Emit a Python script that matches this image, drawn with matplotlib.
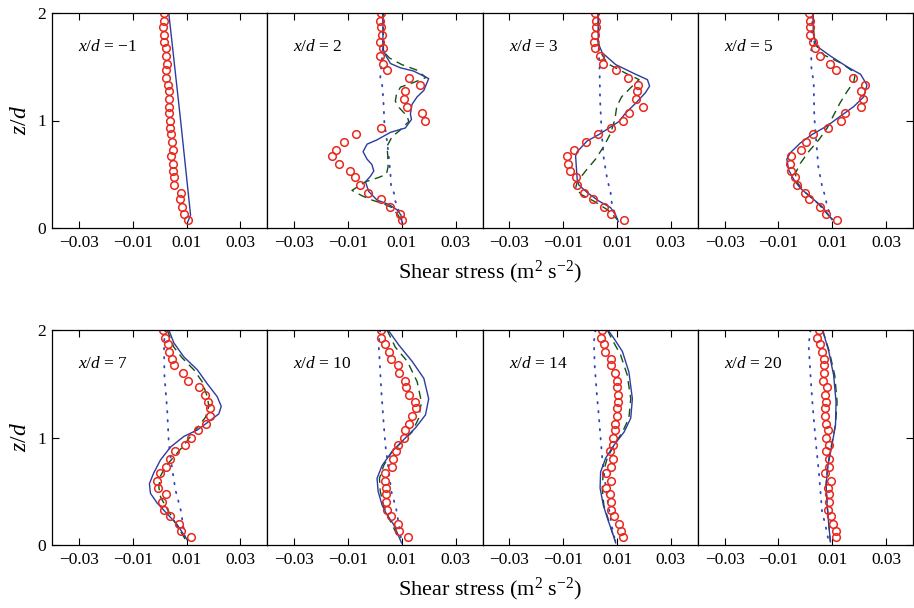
import numpy as np
import matplotlib
matplotlib.use('Agg')
import matplotlib.pyplot as plt

plt.rcParams['font.family'] = 'Liberation Serif'
plt.rcParams['mathtext.fontset'] = 'custom'
plt.rcParams['mathtext.rm'] = 'Liberation Serif'
plt.rcParams['mathtext.it'] = 'Liberation Serif:italic'

# ── Data (shear stress, in units of 1e-3 m^2 s^-2) ───────────────────────────
MILLI = 1e-3

stations = ['\u22121', '2', '3', '5', '7', '10', '14', '20']

# measurement heights (same grid for every station), top -> bottom
z_exp = [2.00, 1.93, 1.87, 1.80, 1.73, 1.67, 1.60, 1.53, 1.47, 1.40,
         1.33, 1.27, 1.20, 1.13, 1.07, 1.00, 0.93, 0.87, 0.80, 0.73,
         0.67, 0.60, 0.53, 0.47, 0.40, 0.33, 0.27, 0.20, 0.13, 0.07]

exp_m1 = [1.8, 1.6, 1.3, 1.8, 1.6, 2.2, 2.4, 2.8, 2.5, 2.2, 3.0, 3.4, 3.4, 3.4, 3.4,
          3.7, 3.8, 4.4, 4.7, 4.9, 4.3, 4.9, 5.0, 5.3, 5.5, 7.8, 7.5, 8.4, 9.0, 10.5]
exp_2 = [2.3, 1.8, 2.4, 2.7, 1.8, 3.0, 1.8, 3.0, 4.5, 12.8, 16.6, 11.3, 11.0, 12.0, 17.5,
         18.8, 2.4, -6.9, -11.6, -14.4, -15.9, -13.2, -9.4, -7.5, -5.6, -2.7, 2.4, 5.8, 9.5, 10.1]
exp_3 = [1.7, 2.3, 2.0, 1.8, 1.4, 1.8, 3.7, 4.9, 9.5, 14.1, 17.9, 17.5, 17.2, 19.7, 14.4,
         12.3, 7.9, 2.9, -1.7, -6.0, -8.7, -8.1, -7.5, -5.4, -4.8, -2.3, 1.1, 5.1, 7.6, 12.6]
exp_5 = [1.5, 1.9, 1.6, 1.9, 2.9, 3.7, 5.6, 9.3, 11.4, 17.7, 22.3, 20.8, 21.5, 20.8, 14.6,
         13.4, 8.4, 2.7, 0.2, -1.5, -5.2, -5.6, -5.2, -4.0, -3.1, -0.2, 1.2, 5.6, 7.8, 11.8]
exp_7 = [1.3, 1.9, 3.0, 3.5, 4.5, 5.5, 8.7, 10.5, 14.6, 16.7, 17.9, 18.9, 18.9, 17.4, 14.2,
         11.8, 9.6, 5.6, 3.8, 2.5, 0.1, -0.9, -0.7, 2.3, 0.9, 1.6, 4.0, 7.1, 8.1, 11.7]
exp_10 = [2.4, 2.3, 3.9, 5.1, 6.1, 8.5, 8.9, 11.3, 11.6, 12.8, 14.8, 15.1, 13.8, 12.8, 11.1,
          10.7, 8.5, 8.0, 6.6, 6.4, 3.9, 3.7, 4.2, 4.2, 4.2, 4.5, 6.1, 8.5, 8.9, 12.3]
exp_14 = [4.5, 4.2, 5.1, 5.4, 7.6, 7.9, 9.1, 10.1, 10.1, 10.4, 10.5, 10.1, 9.9, 9.2, 9.2,
          8.6, 8.5, 7.4, 8.5, 7.6, 5.8, 7.9, 5.8, 7.4, 7.9, 7.9, 8.9, 10.7, 11.3, 12.3]
exp_20 = [5.0, 4.3, 5.6, 6.0, 7.1, 6.8, 6.8, 6.6, 8.1, 7.2, 7.7, 7.2, 7.2, 7.7, 8.4,
          7.7, 8.9, 7.7, 8.9, 8.9, 7.2, 9.5, 8.3, 8.9, 8.9, 8.3, 9.5, 10.2, 11.4, 11.2]

# solid-line model
solid_z_m1 = [2.0, 1.0, 0.12, 0.06]
solid_m1 = [3.4, 7.8, 11.5, 10.5]
solid_z_2 = [2.00, 1.67, 1.61, 1.53, 1.49, 1.46, 1.39, 1.28, 1.22, 1.15, 1.06, 1.01, 0.93, 0.89,
             0.82, 0.78, 0.71, 0.64, 0.59, 0.53, 0.48, 0.43, 0.34, 0.26, 0.22, 0.17, 0.12, 0.05]
solid_2 = [3.0, 3.0, 3.9, 5.8, 9.5, 14.4, 20.0, 18.2, 15.7, 13.8, 13.2, 13.6, 11.3, 5.8,
           0.8, -2.9, -4.4, -2.9, -1.1, -0.4, -1.7, -3.5, -2.3, 0.8, 5.1, 8.2, 9.7, 10.1]
solid_z_3 = [2.0, 1.72, 1.63, 1.52, 1.43, 1.38, 1.32, 1.26, 1.16, 1.07, 0.99, 0.93, 0.87, 0.81,
             0.71, 0.67, 0.45, 0.40, 0.33, 0.25, 0.19, 0.12, 0.06]
solid_3 = [3.0, 3.0, 4.5, 9.5, 16.9, 21.3, 22.1, 20.6, 16.9, 13.2, 10.7, 7.0, 3.3, -1.1,
           -4.8, -5.4, -4.8, -4.2, -1.1, 3.3, 7.6, 9.5, 10.5]
solid_z_5 = [2.0, 1.81, 1.69, 1.60, 1.50, 1.43, 1.33, 1.22, 1.13, 1.04, 0.95, 0.87, 0.79, 0.70,
             0.64, 0.54, 0.45, 0.37, 0.29, 0.20, 0.08]
solid_5 = [2.9, 2.9, 4.3, 9.3, 15.5, 20.5, 22.9, 21.7, 18.0, 13.0, 8.1, 2.5, -1.9, -5.6,
           -6.9, -6.2, -4.3, -1.9, 1.9, 6.2, 9.9]
solid_z_7 = [2.0, 1.88, 1.75, 1.63, 1.50, 1.38, 1.29, 1.22, 1.16, 1.07, 1.01, 0.91, 0.79, 0.67,
             0.57, 0.48, 0.39, 0.29, 0.19, 0.05]
solid_7 = [3.4, 5.3, 9.0, 14.0, 17.7, 21.4, 22.9, 22.0, 18.9, 14.0, 9.0, 4.0, 0.3, -2.2,
           -3.8, -3.4, -0.9, 2.8, 6.5, 10.2]
solid_z_10 = [2.0, 1.86, 1.71, 1.55, 1.36, 1.21, 1.09, 0.98, 0.87, 0.74, 0.62, 0.50, 0.37, 0.28, 0.19, 0.02]
solid_10 = [4.9, 8.9, 13.8, 18.2, 20.0, 18.8, 15.1, 10.7, 6.4, 2.7, 0.8, 1.2, 2.7, 4.5, 7.0, 9.9]
solid_z_14 = [2.0, 1.92, 1.80, 1.61, 1.36, 1.18, 1.05, 0.93, 0.81, 0.68, 0.53, 0.37, 0.25, 0.12, 0.02]
solid_14 = [6.6, 8.9, 12.0, 14.4, 15.7, 15.1, 12.6, 8.9, 5.8, 3.9, 3.7, 4.9, 6.4, 8.2, 9.5]
solid_z_20 = [2.0, 1.80, 1.58, 1.33, 1.12, 0.93, 0.74, 0.56, 0.37, 0.19, 0.03]
solid_20 = [6.4, 8.7, 10.5, 11.4, 11.2, 9.9, 8.4, 7.7, 8.1, 8.7, 9.3]

# dashed-line model
dash_z_2 = [2.00, 1.64, 1.58, 1.52, 1.47, 1.40, 1.35, 1.31, 1.24, 1.18, 1.12, 1.04, 0.99, 0.90,
            0.85, 0.76, 0.67, 0.57, 0.50, 0.47, 0.43, 0.35, 0.30, 0.26, 0.23, 0.19, 0.11, 0.03]
dash_2 = [3.0, 3.2, 5.5, 10.0, 15.5, 19.0, 14.0, 9.5, 8.0, 7.6, 9.0, 12.0, 12.6, 8.9,
          6.4, 4.5, 4.8, 4.9, 4.3, 1.4, -3.5, -8.5, -4.8, -1.1, 2.7, 6.4, 8.9, 10.1]
dash_z_3 = [2.0, 1.66, 1.53, 1.44, 1.38, 1.32, 1.22, 1.13, 1.01, 0.88, 0.76, 0.64, 0.53, 0.43,
            0.37, 0.31, 0.25, 0.17, 0.08]
dash_3 = [3.0, 3.3, 6.4, 13.2, 18.2, 15.7, 11.7, 9.9, 9.2, 7.6, 5.1, 2.0, -1.7, -4.8,
          -5.4, -3.2, 1.4, 6.4, 10.1]
dash_z_5 = [2.0, 1.72, 1.61, 1.53, 1.44, 1.36, 1.27, 1.16, 1.05, 0.93, 0.82, 0.71, 0.60, 0.51,
            0.43, 0.33, 0.22, 0.08]
dash_5 = [2.9, 3.3, 6.8, 13.6, 18.6, 18.0, 15.5, 12.8, 10.5, 8.1, 5.0, 1.2, -1.9, -3.7,
          -3.3, 0.0, 5.0, 9.9]
dash_z_7 = [2.0, 1.84, 1.74, 1.63, 1.52, 1.38, 1.29, 1.19, 1.12, 1.01, 0.91, 0.82, 0.73, 0.64,
            0.54, 0.45, 0.36, 0.23, 0.05]
dash_7 = [2.8, 5.3, 8.4, 12.7, 15.8, 17.7, 18.3, 17.1, 14.9, 11.5, 8.4, 5.3, 2.2, 0.3,
          -0.3, 0.3, 2.2, 5.3, 9.6]
dash_z_10 = [2.0, 1.84, 1.71, 1.52, 1.33, 1.18, 1.05, 0.96, 0.87, 0.74, 0.62, 0.50, 0.36, 0.22, 0.06]
dash_10 = [4.5, 7.6, 12.0, 15.7, 17.3, 16.3, 13.8, 10.1, 6.4, 3.3, 1.7, 2.0, 3.3, 5.8, 8.9]
dash_z_14 = [2.0, 1.91, 1.77, 1.58, 1.36, 1.18, 1.05, 0.93, 0.81, 0.68, 0.53, 0.37, 0.25, 0.12, 0.03]
dash_14 = [6.4, 8.2, 11.3, 13.8, 15.1, 14.4, 12.0, 8.9, 6.4, 4.9, 4.5, 5.1, 6.6, 8.2, 9.5]
dash_z_20 = [2.0, 1.80, 1.58, 1.33, 1.12, 0.93, 0.74, 0.56, 0.37, 0.19, 0.03]
dash_20 = [6.4, 8.9, 10.9, 11.8, 11.2, 9.7, 8.3, 7.7, 8.1, 8.7, 9.3]

# dotted-line model
dot_z_2 = [2.0, 1.67, 1.40, 1.33, 1.24, 1.12, 0.99, 0.81, 0.68, 0.50, 0.40, 0.31, 0.25, 0.16, 0.05]
dot_2 = [3.0, 3.0, 2.0, 2.7, 3.0, 3.3, 3.5, 4.5, 5.1, 5.8, 6.0, 7.3, 7.6, 8.9, 10.1]
dot_z_3 = [2.0, 1.75, 1.50, 1.19, 0.88, 0.64, 0.45, 0.33, 0.20, 0.08]
dot_3 = [3.0, 3.0, 3.5, 3.7, 4.3, 5.1, 6.4, 7.6, 8.2, 10.1]
dot_z_5 = [2.0, 1.81, 1.50, 1.35, 1.04, 0.79, 0.57, 0.39, 0.29, 0.20, 0.08]
dot_5 = [2.9, 2.2, 2.2, 3.1, 3.3, 4.1, 4.8, 6.2, 7.4, 8.1, 9.9]
dot_z_7 = [2.0, 1.88, 1.57, 1.26, 0.95, 0.70, 0.51, 0.33, 0.05]
dot_7 = [2.2, 1.6, 1.8, 2.8, 3.4, 4.7, 5.9, 7.8, 9.6]
dot_z_10 = [2.0, 1.86, 1.74, 1.43, 1.12, 0.93, 0.74, 0.50, 0.34, 0.19, 0.03]
dot_10 = [2.0, 1.4, 1.7, 2.4, 3.3, 3.9, 4.9, 6.1, 7.9, 8.9, 9.9]
dot_z_14 = [2.0, 1.89, 1.67, 1.43, 1.18, 0.99, 0.81, 0.62, 0.43, 0.28, 0.16, 0.06]
dot_14 = [2.0, 1.4, 1.7, 2.4, 3.3, 3.9, 4.5, 5.4, 6.4, 7.4, 8.2, 9.1]
dot_z_20 = [2.0, 1.86, 1.58, 1.36, 1.12, 0.90, 0.68, 0.50, 0.31, 0.19, 0.03]
dot_20 = [1.9, 1.2, 1.9, 2.5, 3.3, 4.1, 5.0, 5.6, 6.2, 7.4, 8.7]

x_ticks = [-0.03, -0.01, 0.01, 0.03]
x_ticklabels = ['\u22120.03', '\u22120.01', '0.01', '0.03']
z_ticks = [0, 1, 2]

panels = [
    (exp_m1, (solid_z_m1, solid_m1), None, None),
    (exp_2, (solid_z_2, solid_2), (dash_z_2, dash_2), (dot_z_2, dot_2)),
    (exp_3, (solid_z_3, solid_3), (dash_z_3, dash_3), (dot_z_3, dot_3)),
    (exp_5, (solid_z_5, solid_5), (dash_z_5, dash_5), (dot_z_5, dot_5)),
    (exp_7, (solid_z_7, solid_7), (dash_z_7, dash_7), (dot_z_7, dot_7)),
    (exp_10, (solid_z_10, solid_10), (dash_z_10, dash_10), (dot_z_10, dot_10)),
    (exp_14, (solid_z_14, solid_14), (dash_z_14, dash_14), (dot_z_14, dot_14)),
    (exp_20, (solid_z_20, solid_20), (dash_z_20, dash_20), (dot_z_20, dot_20)),
]

# ── Styling ──────────────────────────────────────────────────────────────────
RED = '#e8281e'
BLUE = '#2c3c9e'
GREEN = '#155215'
DOTBLUE = '#3446b8'

W, H = 914, 608
fig = plt.figure(figsize=(W / 100, H / 100), dpi=100)
x0, pw, ph = 52, 215.25, 215
row_bottom = [228, 545]

for i, (exp, solid, dash, dot) in enumerate(panels):
    r, c = divmod(i, 4)
    ax = fig.add_axes([(x0 + c * pw) / W, 1 - row_bottom[r] / H, pw / W, ph / H])

    if dot is not None:
        ax.plot(np.array(dot[1]) * MILLI, dot[0], color=DOTBLUE, lw=1.3,
                linestyle=(0, (0.8, 4.2)), dash_capstyle='round')
    if dash is not None:
        ax.plot(np.array(dash[1]) * MILLI, dash[0], color=GREEN, lw=1.0,
                linestyle=(0, (6, 4)))
    ax.plot(np.array(solid[1]) * MILLI, solid[0], color=BLUE, lw=1.0)
    ax.plot(np.array(exp) * MILLI, z_exp, 'o', mfc='none', mec=RED,
            ms=5.5, mew=1.1)

    ax.set_xlim(-0.04, 0.04)
    ax.set_ylim(0, 2)
    ax.set_xticks(x_ticks)
    ax.set_xticklabels(x_ticklabels)
    ax.tick_params(axis='x', direction='in', top=True, bottom=True,
                   length=5, width=0.8, labelsize=12.5, pad=5)
    ax.set_yticks(z_ticks)
    if c == 0:
        ax.tick_params(axis='y', direction='in', left=True, right=False,
                       length=5, width=0.8, labelsize=12.5, pad=4)
    elif c == 3:
        ax.tick_params(axis='y', direction='in', left=False, right=True,
                       labelleft=False, length=5, width=0.8)
    else:
        ax.tick_params(axis='y', left=False, right=False, labelleft=False)
    for sp in ax.spines.values():
        sp.set_linewidth(0.9)

    ax.text(0.121, 0.84, '$x/d$ = ' + stations[i], transform=ax.transAxes,
            ha='left', va='center', fontsize=12.5)

for r in range(2):
    yc = 1 - (row_bottom[r] - ph / 2) / H
    fig.text(20 / W, yc, '$z/d$', rotation=90, ha='center', va='center', fontsize=17)
    fig.text(490 / W, 1 - (row_bottom[r] + 44) / H, 'Shear stress (m$^2$ s$^{-2}$)',
             ha='center', va='center', fontsize=16)

fig.savefig('out.png', dpi=100, facecolor='white')
